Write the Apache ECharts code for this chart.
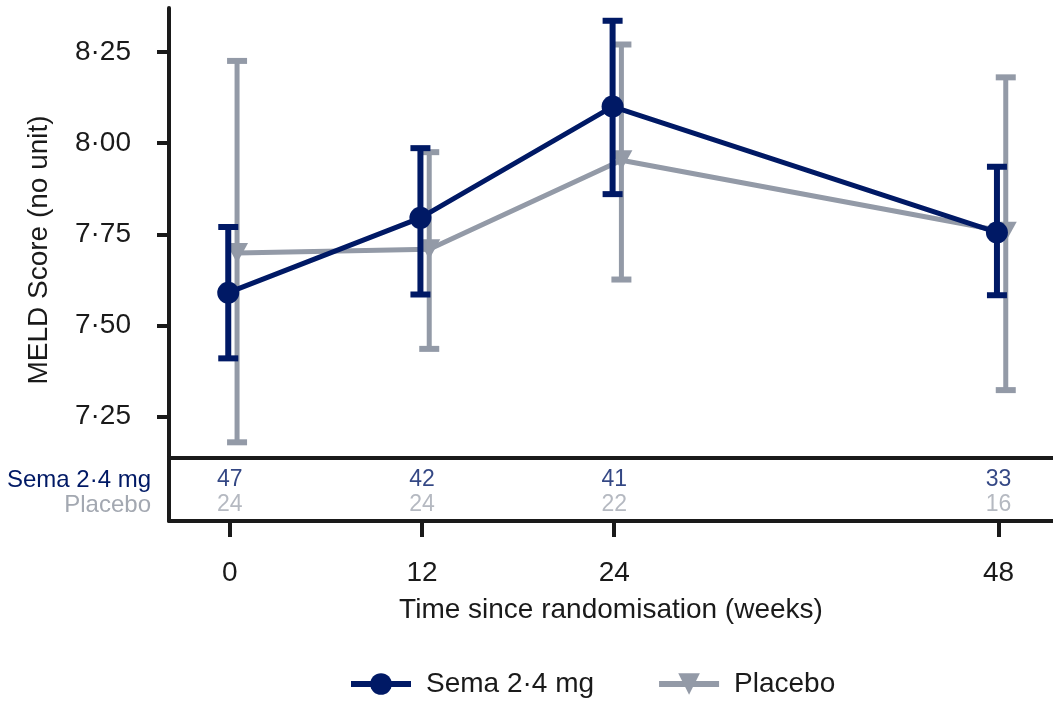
<!DOCTYPE html>
<html>
<head>
<meta charset="utf-8">
<script src="https://cdn.jsdelivr.net/npm/echarts@6/dist/echarts.min.js"></script>
<style>
html,body{margin:0;padding:0;background:#fff;}
#chart{width:1053px;height:702px;}
</style>
</head>
<body>
<div id="chart"></div>
<script>
// ---- data ----
const weeks = [0, 12, 24, 48];
const semaMean = [7.59, 7.795, 8.10, 7.755];
const semaLower = [7.41, 7.585, 7.86, 7.583];
const semaUpper = [7.77, 7.986, 8.335, 7.935];
const placeboMean = [7.699, 7.709, 7.953, 7.757];
const placeboLower = [7.18, 7.436, 7.626, 7.323];
const placeboUpper = [8.225, 7.975, 8.27, 8.18];
const semaN = [47, 42, 41, 33];
const placeboN = [24, 24, 22, 16];
const yTicks = [7.25, 7.5, 7.75, 8.0, 8.25];
const xTicks = [0, 12, 24, 48];
const rowNames = ['Sema 2·4 mg', 'Placebo'];
const seriesNames = ['Sema 2·4 mg', 'Placebo'];
const xAxisTitle = 'Time since randomisation (weeks)';
const yAxisTitle = 'MELD Score (no unit)';

// ---- style ----
const NAVY = '#001965';
const GREY = '#939aa7';
const GREY_TEXT = '#a3a8b1';
const INK = '#1a1a1a';
const FONT = "'Liberation Sans', Arial, sans-serif";
const semaDodge = -0.1, placeboDodge = 0.45;

const semaLine = weeks.map((w, i) => [w + semaDodge, semaMean[i]]);
const placeboLine = weeks.map((w, i) => [w + placeboDodge, placeboMean[i]]);
const semaCI = weeks.map((w, i) => [w + semaDodge, semaLower[i], semaUpper[i]]);
const placeboCI = weeks.map((w, i) => [w + placeboDodge, placeboLower[i], placeboUpper[i]]);
const semaTable = weeks.map((w, i) => [w, 0, semaN[i]]);
const placeboTable = weeks.map((w, i) => [w, 1, placeboN[i]]);

function errorBar(color, width, capHalf, capWidth) {
  return function (params, api) {
    const x = api.value(0), lo = api.value(1), hi = api.value(2);
    const a = api.coord([x, lo]), b = api.coord([x, hi]);
    const st = { stroke: color, lineWidth: width };
    const cs = { stroke: color, lineWidth: capWidth };
    return {
      type: 'group', children: [
        { type: 'line', shape: { x1: a[0], y1: a[1], x2: b[0], y2: b[1] }, style: st },
        { type: 'line', shape: { x1: a[0] - capHalf, y1: a[1], x2: a[0] + capHalf, y2: a[1] }, style: cs },
        { type: 'line', shape: { x1: b[0] - capHalf, y1: b[1], x2: b[0] + capHalf, y2: b[1] }, style: cs }
      ]
    };
  };
}

function tableSeries(name, data, color) {
  return {
    name: name, type: 'scatter', xAxisIndex: 1, yAxisIndex: 1,
    data: data, symbolSize: 0, silent: true, itemStyle: { color: color },
    label: {
      show: true, position: 'inside', fontSize: 23, fontFamily: FONT, color: color,
      formatter: p => String(p.value[2])
    }
  };
}

const xMin = -3.8, xMax = 51.4;
const chart = echarts.init(document.getElementById('chart'), null, { renderer: 'canvas' });
chart.setOption({
  animation: false,
  backgroundColor: '#fff',
  textStyle: { fontFamily: FONT },
  grid: [
    { left: 169, right: 0, top: 8, height: 450 },
    { left: 169, right: 0, top: 458, height: 63 }
  ],
  xAxis: [
    {
      type: 'value', gridIndex: 0, min: xMin, max: xMax,
      axisLine: { show: true, onZero: false, lineStyle: { color: INK, width: 4 } },
      axisTick: { show: false }, axisLabel: { show: false }, splitLine: { show: false }
    },
    {
      type: 'value', gridIndex: 1, min: xMin, max: xMax, position: 'bottom',
      axisLine: { show: true, onZero: false, lineStyle: { color: INK, width: 4 } },
      axisTick: { show: true, customValues: xTicks, length: 16, lineStyle: { color: INK, width: 4 } },
      axisLabel: { show: true, customValues: xTicks, margin: 38, fontSize: 28, color: INK, fontFamily: FONT },
      splitLine: { show: false },
      name: xAxisTitle, nameLocation: 'middle', nameGap: 75,
      nameTextStyle: { fontSize: 28, color: INK, fontFamily: FONT }
    }
  ],
  yAxis: [
    {
      type: 'value', gridIndex: 0, min: 7.137, max: 8.370,
      axisLine: { show: true, onZero: false, lineStyle: { color: INK, width: 4 } },
      axisTick: { show: true, customValues: yTicks, length: 12, lineStyle: { color: INK, width: 4 } },
      axisLabel: {
        show: true, customValues: yTicks, margin: 38, fontSize: 28, color: INK, fontFamily: FONT,
        formatter: v => v.toFixed(2).replace('.', '·')
      },
      splitLine: { show: false }
    },
    {
      type: 'value', gridIndex: 1, min: -0.88, max: 1.64, inverse: true,
      axisLine: { show: true, onZero: false, lineStyle: { color: INK, width: 4 } },
      axisTick: { show: false },
      axisLabel: {
        show: true, customValues: [0, 1], margin: 18, fontSize: 24, fontFamily: FONT,
        formatter: v => rowNames[Math.round(v)],
        color: v => (Math.round(v) === 0 ? NAVY : GREY_TEXT)
      },
      splitLine: { show: false }
    }
  ],
  legend: {
    data: seriesNames,
    left: 348, top: 670, padding: 0,
    itemWidth: 60, itemHeight: 27, itemGap: 62,
    lineStyle: { width: 6 },
    textStyle: { fontSize: 28, color: INK, fontFamily: FONT, padding: [0, 0, 0, 10] }
  },
  graphic: [{
    type: 'text', x: 39, y: 250, rotation: Math.PI / 2,
    style: { text: yAxisTitle, fontSize: 28, fontFamily: FONT, fill: INK, align: 'center', verticalAlign: 'middle' }
  }],
  series: [
    {
      name: 'Placebo CI', type: 'custom', xAxisIndex: 0, yAxisIndex: 0,
      renderItem: errorBar(GREY, 5, 10, 6), data: placeboCI, z: 1, silent: true
    },
    {
      name: seriesNames[1], type: 'line', xAxisIndex: 0, yAxisIndex: 0, data: placeboLine,
      color: GREY, lineStyle: { color: GREY, width: 5 },
      symbol: 'triangle', symbolRotate: 180, symbolSize: [22, 20],
      itemStyle: { color: GREY }, z: 2
    },
    {
      name: 'Sema CI', type: 'custom', xAxisIndex: 0, yAxisIndex: 0,
      renderItem: errorBar(NAVY, 6, 10, 6), data: semaCI, z: 3, silent: true
    },
    {
      name: seriesNames[0], type: 'line', xAxisIndex: 0, yAxisIndex: 0, data: semaLine,
      color: NAVY, lineStyle: { color: NAVY, width: 5 },
      symbol: 'circle', symbolSize: 22,
      itemStyle: { color: NAVY }, z: 4
    },
    tableSeries('Sema N', semaTable, NAVY),
    tableSeries('Placebo N', placeboTable, GREY_TEXT)
  ]
});
</script>
</body>
</html>
